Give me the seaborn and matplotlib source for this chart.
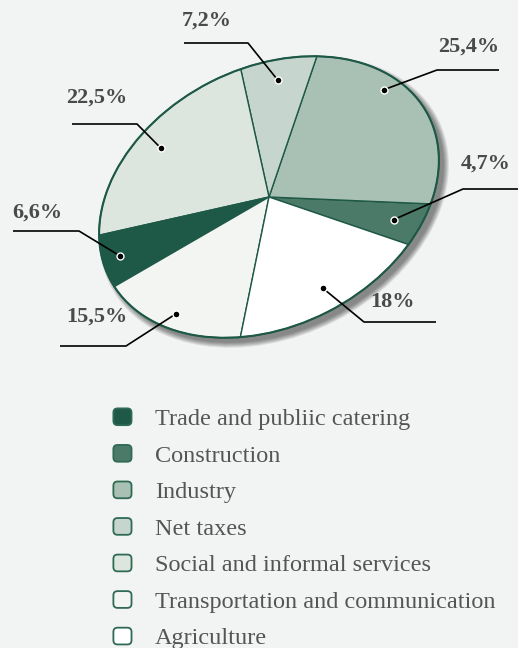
import numpy as np
import matplotlib
matplotlib.use("Agg")
import matplotlib.pyplot as plt
import seaborn as sns
from matplotlib.patches import Ellipse, FancyBboxPatch, Patch
from matplotlib.transforms import Affine2D
from matplotlib.legend_handler import HandlerPatch

# data (legend order)
categories = ["Trade and publiic catering", "Construction", "Industry", "Net taxes",
              "Social and informal services", "Transportation and communication", "Agriculture"]
shares = [6.6, 4.7, 25.4, 7.2, 22.5, 15.5, 18.0]
share_labels = ["6,6%", "4,7%", "25,4%", "7,2%", "22,5%", "15,5%", "18%"]
pie_order = [1, 2, 3, 4, 0, 5, 6]   # order of slices going counter-clockwise

colors = ["#1e5846", "#4b7b68", "#a9c0b4", "#c6d5cd", "#dce6df", "#f3f5f3", "#ffffff"]
EDGE = "#1e5846"
BG = "#f2f4f3"

# layout, in pixels of the 518x648 picture
W, H = 518, 648
CX, CY = 269, 197          # pie centre
A, B, TILT = 179, 129, 27  # ellipse half axes and tilt (deg)
# label: elbow x, elbow y, line end x, text x, text y, anchor radius, anchor angle shift
label_layout = {
    "Trade and publiic catering":       (79, 231, 13, 37, 213, 0.90, 0),
    "Construction":                     (463, 189, 518, 486, 164, 0.82, 0),
    "Industry":                         (437, 70, 499, 469, 47, 0.91, 14),
    "Net taxes":                        (248, 43, 184, 207, 21, 0.85, 0),
    "Social and informal services":     (137, 124, 72, 97, 98, 0.83, 0),
    "Transportation and communication": (126, 346, 60, 97, 317, 0.90, 0),
    "Agriculture":                      (364, 322, 436, 392, 302, 0.82, 0),
}

sns.set_theme(style="white")
plt.rcParams["font.family"] = ["Liberation Serif", "DejaVu Serif"]

fig = plt.figure(figsize=(W / 100, H / 100), dpi=100, facecolor=BG)
ax = fig.add_axes([0, 0, 1, 1])
ax.set_facecolor(BG)

order_vals = [shares[i] for i in pie_order]
order_cols = [colors[i] for i in pie_order]
wedges, _ = ax.pie(order_vals, colors=order_cols, startangle=-55, counterclock=True,
                   radius=1, center=(0, 0),
                   wedgeprops=dict(edgecolor=EDGE, linewidth=1.0))

ax.set_xlim(0, W)
ax.set_ylim(H, 0)
ax.set_aspect("auto")
ax.axis("off")

# squash and tilt the unit pie into the ellipse
squash = Affine2D().scale(A, -B).rotate_deg(-TILT).translate(CX, CY)
for w in wedges:
    w.set_transform(squash + ax.transData)
    w.set_zorder(3)

# soft drop shadow on the lower right
for k in range(6):
    g = k * 1.0
    sh = Affine2D().scale(A + g, -(B + g)).rotate_deg(-TILT).translate(CX + 5, CY + 5)
    ax.add_patch(Ellipse((0, 0), 2, 2, facecolor="black", edgecolor="none",
                         alpha=0.09, transform=sh + ax.transData, zorder=1))

ax.add_patch(Ellipse((0, 0), 2, 2, facecolor="none", edgecolor=EDGE, linewidth=1.5,
                     transform=squash + ax.transData, zorder=4))

# leader lines and percentages
for slot, idx in enumerate(pie_order):
    w = wedges[slot]
    ex, ey, endx, tx, ty, r, shift = label_layout[categories[idx]]
    mid = np.deg2rad((w.theta1 + w.theta2) / 2 + shift)
    px, py = squash.transform((r * np.cos(mid), r * np.sin(mid)))
    ax.plot([px, ex, endx], [py, ey, ey], color="black", linewidth=1.2,
            solid_capstyle="butt", zorder=5)
    ax.plot(px, py, "o", color="black", markersize=5, markeredgecolor="white",
            markeredgewidth=1.0, zorder=6)
    ax.text(tx, ty, share_labels[idx], ha="center", va="center", fontsize=16,
            fontweight="bold", color="#4a4a4a", zorder=6)


def rounded_box(legend, orig_handle, xdescent, ydescent, width, height, fontsize):
    return FancyBboxPatch((-xdescent + 1, -ydescent + 1), width - 2, height - 2,
                          boxstyle="round,pad=0,rounding_size=3")


handles = [Patch(facecolor=c, edgecolor="#2f6a55", linewidth=1.3) for c in colors]
leg = ax.legend(handles, categories, loc="upper left", bbox_to_anchor=(112, 407),
                bbox_transform=ax.transData, frameon=False, fontsize=17.5,
                handlelength=0.86, handleheight=0.86, handletextpad=0.9,
                labelspacing=0.55, borderpad=0, borderaxespad=0,
                handler_map={Patch: HandlerPatch(patch_func=rounded_box)})
for t in leg.get_texts():
    t.set_color("#555555")

fig.savefig("out.png", dpi=100, facecolor=BG)
